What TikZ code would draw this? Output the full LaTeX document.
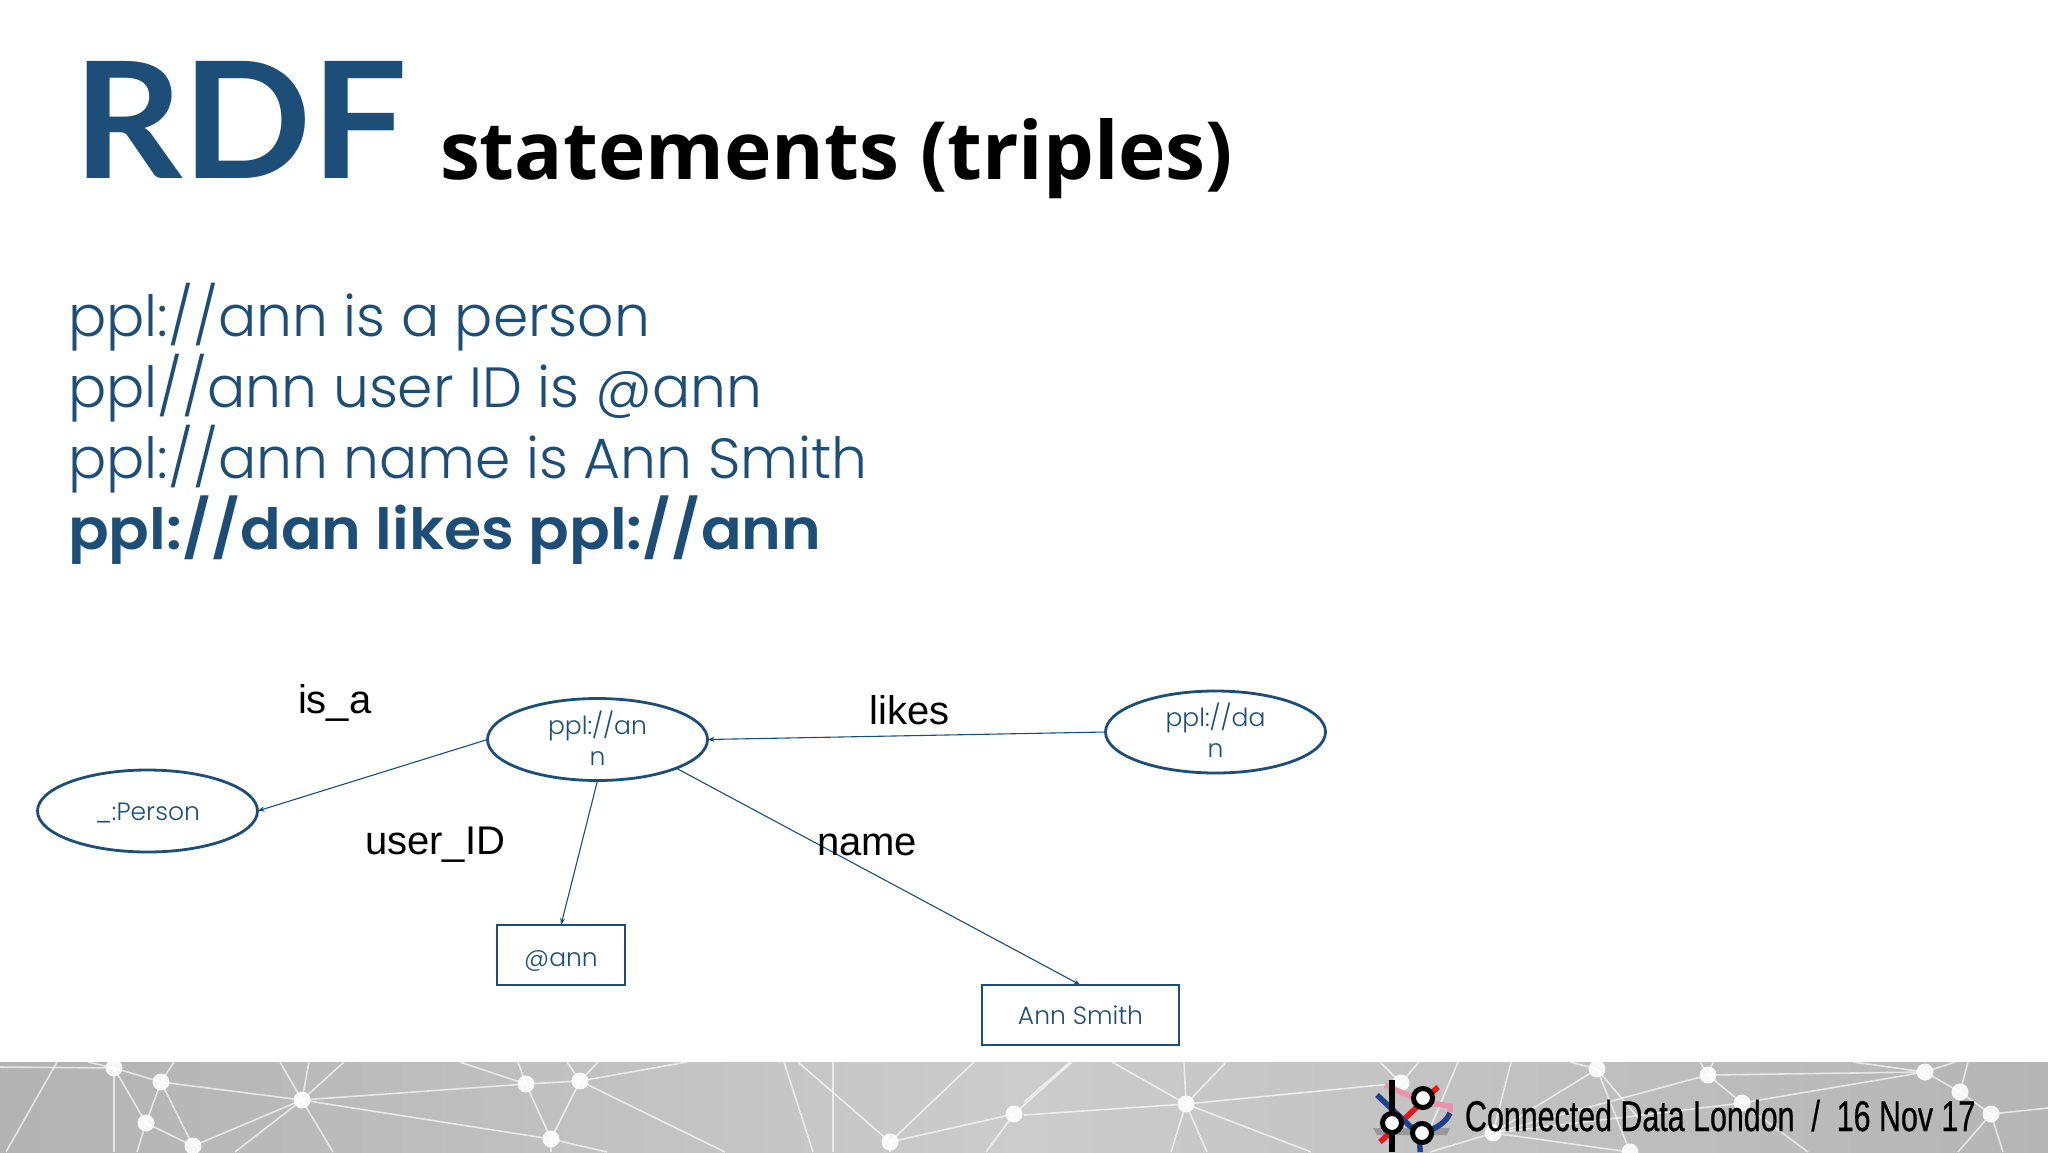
\documentclass[tikz,border=0pt]{standalone}
\usepackage{fontspec}
\usetikzlibrary{shapes.geometric,arrows.meta}
\setmainfont{Lato}
\newfontfamily\lightfont{Poppins Light}
\newfontfamily\boldfont[FakeStretch=1.06]{Poppins SemiBold}
\newfontfamily\subfont{Open Sans}
\newfontfamily\rdffont[FakeStretch=1.05]{Lato}
\newfontfamily\arialfont{Liberation Sans}
\newfontfamily\narrowfont[FakeStretch=0.707,FakeBold=0.6]{Liberation Sans}
\definecolor{navy}{HTML}{1C4E78}
\definecolor{logoblue}{HTML}{1F3F8F}
\definecolor{logored}{HTML}{E8171C}
\definecolor{logopink}{HTML}{EB93AE}
\tikzset{
  every node/.style={inner sep=0pt,outer sep=0pt},
  titlebig/.style={anchor=base west,text=navy,font=\rdffont\fontsize{162}{170}\selectfont\bfseries},
  titlesub/.style={anchor=base west,text=black,font=\subfont\fontsize{80.3}{84}\selectfont\bfseries},
  bodyline/.style={anchor=base west,text=navy,font=\lightfont\fontsize{56.7}{70}\selectfont},
  bodybold/.style={anchor=base west,text=navy,font=\boldfont\fontsize{56.7}{70}\selectfont},
  edgelabel/.style={anchor=base west,text=black,font=\arialfont\fontsize{40}{44}\selectfont},
  res/.style={ellipse,draw=navy,line width=2.8pt,minimum width=220pt,minimum height=82pt,text=navy,align=center,font=\lightfont\fontsize{25}{31}\selectfont},
  lit/.style={rectangle,draw=navy,line width=2.8pt,text=navy,font=\lightfont\fontsize{25}{32}\selectfont},
  conn/.style={draw=navy,line width=1.1pt,-{Stealth[length=7pt,width=5pt]}},
  web/.style={draw=white,opacity=.65,line width=1.6pt},
  dot/.style={circle,fill=white,opacity=.9,minimum size=17pt},
  logoline/.style={line width=5.5pt},
  logoring/.style={circle,draw=black,fill=white,line width=5pt,minimum size=19pt}
}
\begin{document}
\begin{tikzpicture}[x=1pt,y=-1pt]
\useasboundingbox (0,0) rectangle (2048,1152);
\fill[white] (0,0) rectangle (2048,1152);
% band
\shade[left color=black!30,right color=black!29,middle color=black!20] (0,1062) rectangle (2048,1152);
\begin{scope}
\clip (0,1062) rectangle (2048,1152);
\foreach \n/\x/\y in {n1/114/1068,n2/161/1082,n3/302/1100,n4/526/1084,n5/580/1081,n6/146/1123,n7/193/1146,n8/551/1139,n9/890/1142,n10/1014/1114,m1/1186/1104,m2/1597/1069,m3/1708/1075,m4/1925/1072,m5/1960/1092,m6/1991/1114,m7/1742/1103,m8/1493/1133,m9/1401/1083,m10/1630/1152}
  \coordinate (\n) at (\x,\y);
\foreach \a/\b in {n1/n2,n1/n6,n2/n6,n2/n7,n2/n3,n6/n7,n3/n4,n3/n7,n3/n8,n4/n5,n4/n8,n5/n8,n9/n10,m1/m9,m2/m8,m3/m7,m3/m4,m4/m7,m4/m5,m5/m6,m7/m8,m3/m8,m2/m10,m8/m10}
  \draw[web] (\a) -- (\b);
\foreach \a/\x/\y in {n1/0/1067,n1/88/1062,n1/114/1152,n2/174/1062,n6/137/1152,n3/280/1062,n3/309/1062,n3/344/1062,n3/235/1152,n3/333/1152,n4/460/1062,n4/518/1062,n5/567/1062,n5/598/1062,n5/687/1062,n5/725/1152,n8/607/1152,n8/551/1152,n9/798/1062,n9/974/1062,n9/890/1152,n10/1072/1062,n10/986/1152,m1/1024/1115,m1/1112/1062,m1/1184/1062,m1/1226/1062,m1/1311/1152,m1/1171/1152,m1/1207/1152,m9/1380/1062,m9/1419/1062,m8/1511/1062,m8/1430/1152,m2/1570/1062,m2/1640/1120,m3/1700/1062,m3/1713/1062,m4/1853/1062,m4/1955/1062,m5/1968/1062,m6/2048/1108,m6/2003/1152,m6/1958/1152,m7/1808/1152}
  \draw[web] (\a) -- (\x,\y);
\draw[web] (57,1062) -- (6,1152);
\draw[web] (784,1062) -- (813,1152);
\draw[web] (833,1062) -- (833,1152);
\draw[web] (1070,1062) -- (1024,1102);
\draw[web] (1458,1062) -- (1420,1152);
\foreach \n in {n1,n2,n3,n4,n5,n6,n7,n8,n9,n10,m1,m2,m3,m4,m5,m6,m7,m8,m9,m10}
  \node[dot] at (\n) {};
\end{scope}
% logo
\begin{scope}
\clip (0,1062) rectangle (2048,1152);
\fill[black!45,opacity=.75] (1373,1128) -- (1450,1128) -- (1447,1135) -- (1377,1135) -- cycle;
\draw[logoline,logored] (1380,1142) -- (1438,1087);
\draw[logoline,logoblue] (1377,1095) -- (1412,1128) .. controls (1420,1135) and (1420,1140) .. (1420,1152);
\draw[logoline,logoblue] (1450,1113) .. controls (1446,1122) and (1438,1128) .. (1424,1132);
\draw[logoline,logopink] (1385,1085) -- (1423,1102) -- (1450,1106) -- (1450,1112);
\draw[line width=6pt,black] (1392,1080) -- (1392,1152);
\node[logoring] (ringa) at (1392,1123) {};
\node[logoring] (ringb) at (1423,1098) {};
\node[logoring] (ringc) at (1422,1133) {};
\end{scope}
\node[anchor=base west,text=black,font=\narrowfont\fontsize{43}{46}\selectfont] (footer) at (1465,1131) {Connected Data London\ \ /\ \ 16 Nov 17};
% title
\node[titlebig] (rdf) at (73,178) {RDF};
\node[titlesub] (sub) at (440,179) {statements (triples)};
% body
\node[bodyline] (l1) at (68,336) {ppl://ann is a person};
\node[bodyline] (l2) at (68,407) {ppl//ann user ID is @ann};
\node[bodyline] (l3) at (68,478) {ppl://ann name is Ann Smith};
\node[bodybold] (l4) at (68,549) {ppl://dan likes ppl://ann};
% graph
\node[res] (ann) at (597.5,739.5) {ppl://an\\n\rule[-3pt]{0pt}{3pt}};
\node[res] (person) at (147.5,811) {\rule{0pt}{21pt}\_:Person};
\node[res] (dan) at (1215.5,732) {ppl://da\\n\rule[-3pt]{0pt}{3pt}};
\node[lit,minimum width=128pt,minimum height=60pt] (atann) at (561,955) {\rule{0pt}{27pt}@ann};
\node[lit,minimum width=197pt,minimum height=60pt] (smith) at (1080.5,1015) {Ann Smith};
\draw[conn] (ann.west) -- (person.east);
\draw[conn] (ann.south) -- (atann.north);
\draw[conn] (dan.west) -- (ann.east);
\draw[conn] (ann.-20.6) -- (smith.north);
\node[edgelabel] (isa) at (298,713) {is\_a};
\node[edgelabel] (likes) at (869.5,724) {likes};
\node[edgelabel] (uid) at (365,854) {user\_ID};
\node[edgelabel] (nm) at (817,855) {name};
\end{tikzpicture}
\end{document}
